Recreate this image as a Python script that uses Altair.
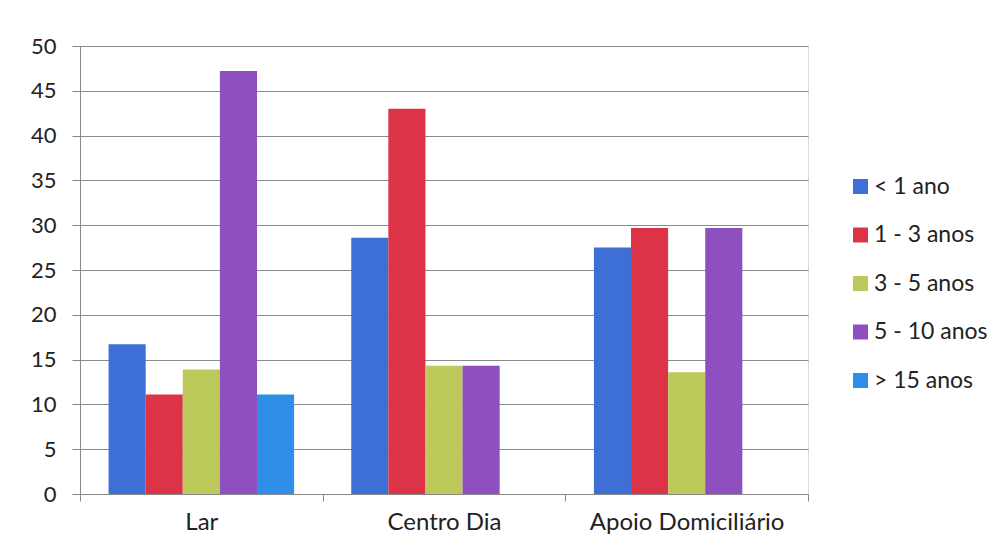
import altair as alt
import pandas as pd

categories = ["Lar", "Centro Dia", "Apoio Domiciliário"]
series = ["< 1 ano", "1 - 3 anos", "3 - 5 anos", "5 - 10 anos", "> 15 anos"]
colors = ["#3D6FD6", "#DD3346", "#BDC95A", "#8E4FC0", "#2F8FE8"]

lar = [16.7, 11.1, 13.9, 47.2, 11.1]
centro_dia = [28.6, 43.0, 14.3, 14.3, None]
apoio = [27.5, 29.7, 13.6, 29.7, None]

rows = []
for cat, vals in zip(categories, [lar, centro_dia, apoio]):
    for s, v in zip(series, vals):
        if v is not None:
            rows.append({"categoria": cat, "serie": s, "valor": v})
df = pd.DataFrame(rows)

FONT = "Lato"

chart = alt.Chart(df).mark_bar().encode(
    x=alt.X("categoria:N", sort=categories, title=None,
            scale=alt.Scale(paddingInner=0, paddingOuter=0),
            axis=alt.Axis(labelAngle=0, tickBand="extent", labelFontSize=24,
                          labelPadding=9, tickSize=7, tickColor="#888888",
                          domainColor="#888888", labelColor="#222222",
                          labelFont=FONT, labelLimit=400)),
    xOffset=alt.XOffset("serie:N", sort=series,
                        scale=alt.Scale(domain=series, paddingInner=0, paddingOuter=0.77)),
    y=alt.Y("valor:Q", title=None,
            scale=alt.Scale(domain=[0, 50]),
            axis=alt.Axis(values=list(range(0, 51, 5)), labelFontSize=22,
                          tickSize=8, tickColor="#888888", domainColor="#888888",
                          gridColor="#8a8a8a", labelPadding=16, labelColor="#222222",
                          labelFont=FONT)),
    color=alt.Color("serie:N", sort=series,
                    scale=alt.Scale(domain=series, range=colors),
                    legend=alt.Legend(title=None, orient="none", legendX=769, legendY=129,
                                      symbolType="square", symbolSize=225,
                                      symbolStrokeWidth=0, labelFontSize=23,
                                      labelFont=FONT, labelColor="#222222",
                                      rowPadding=24.5, labelOffset=2)),
).properties(
    width=728, height=448,
    autosize=alt.AutoSizeParams(type="none"),
    padding={"left": 72, "top": 38, "right": 180, "bottom": 50},
).configure_view(stroke=None).configure(background="white")

chart.save("out.html", embed_options={"renderer": "svg", "actions": False})
